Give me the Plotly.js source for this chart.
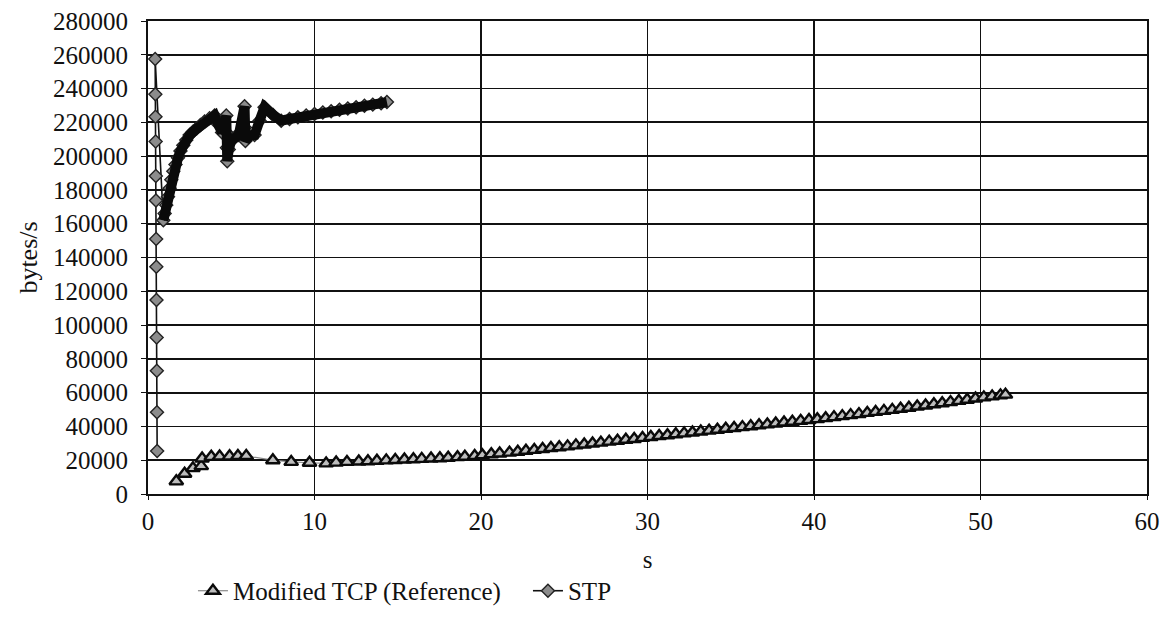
<!DOCTYPE html>
<html>
<head>
<meta charset="utf-8">
<script src="https://cdn.plot.ly/plotly-3.0.1.min.js"></script>
<style>
html,body{margin:0;padding:0;background:#fff;overflow:hidden;}
#chart{width:1174px;height:626px;}
</style>
</head>
<body>
<div id="chart"></div>
<script>
// Modified TCP (Reference)
var tcpX = [1.7, 2.2, 2.7, 3.2, 3.25, 3.8, 4.3, 4.9, 5.4, 5.9, 7.5, 8.6, 9.7, 10.7, 11.3, 11.95,
  12.66, 13.21, 13.75, 14.31, 14.85, 15.4, 15.94, 16.44, 17.0, 17.53, 18.03, 18.59, 19.03, 19.62,
  20.08, 20.62, 21.12, 21.71, 22.21, 22.7, 23.2, 23.7, 24.2, 24.7, 25.2, 25.7, 26.2, 26.7, 27.2,
  27.7, 28.2, 28.7, 29.2, 29.7, 30.2, 30.7, 31.2, 31.7, 32.2, 32.7, 33.2, 33.7, 34.2, 34.7, 35.2,
  35.7, 36.2, 36.7, 37.2, 37.7, 38.2, 38.7, 39.2, 39.7, 40.2, 40.7, 41.2, 41.7, 42.2, 42.7, 43.2,
  43.7, 44.2, 44.7, 45.2, 45.7, 46.2, 46.7, 47.2, 47.7, 48.2, 48.7, 49.2, 49.7, 50.2, 50.7, 51.2, 51.5];
var tcpY = [7500, 12000, 15300, 16500, 21000, 22000, 22200, 22300, 22500, 22500, 20000, 19000, 18500, 18100, 18600, 19000,
  19200, 19400, 19700, 19900, 20100, 20400, 20600, 20800, 21000, 21200, 21500, 21800, 22100, 22500,
  23000, 23500, 24000, 24500, 25000, 25600, 26100, 26600, 27200, 27700, 28200, 28800, 29300, 29900, 30400,
  31000, 31500, 32100, 32600, 33200, 33700, 34300, 34800, 35400, 35900, 36400, 37000, 37500, 38000, 38600, 39100,
  39600, 40100, 40700, 41200, 41700, 42300, 42800, 43300, 43800, 44300, 44900, 45500, 46100, 46700, 47300, 48000,
  48600, 49200, 49800, 50500, 51100, 51800, 52400, 53100, 53700, 54400, 55100, 55800, 56500, 57200, 57800, 58400, 58800];

// STP
var stpX = [0.55, 0.54, 0.53, 0.52, 0.51, 0.50, 0.49, 0.48, 0.47, 0.46, 0.45, 0.44, 0.43,
  0.92, 1.0, 1.1, 1.2, 1.3, 1.4, 1.52, 1.65, 1.8, 1.95, 2.12, 2.3, 2.5, 2.7, 2.92, 3.15, 3.4, 3.7, 4.0,
  4.2, 4.45, 4.7, 4.72, 4.74, 4.76, 4.85, 5.0, 5.2, 5.45, 5.8, 5.82, 5.85, 6.1, 6.4, 6.7, 7.0, 7.5, 8.0,
  8.5, 9.0, 9.5, 10.0, 10.5, 11.0, 11.5, 12.0, 12.5, 13.0, 13.5, 14.0, 14.35];
var stpY = [25500, 48400, 72900, 92700, 114900, 134500, 151000, 173800, 188300, 208700, 223300, 236700, 257500,
  162000, 166000, 171000, 176000, 181000, 186000, 191000, 195000, 199000, 203000, 206500, 209500, 212500, 214500, 216300, 218500, 220500, 222500, 224000,
  219000, 214000, 224000, 214000, 205000, 197000, 204000, 209000, 211000, 212500, 229500, 217000, 209000, 212000, 212500, 221000, 229000, 224500, 221000,
  222000, 223000, 224000, 225000, 225800, 226600, 227400, 228200, 229000, 229800, 230500, 231300, 232000];
var stpBandStart = 13; // dense part of the STP curve (drawn as a heavy band)

var yTicks = [0, 20000, 40000, 60000, 80000, 100000, 120000, 140000, 160000, 180000, 200000, 220000, 240000, 260000, 280000];
var xTicks = [0, 10, 20, 30, 40, 50, 60];

var serif = 'Liberation Serif';

var traces = [
  {
    x: tcpX, y: tcpY, name: 'Modified TCP (Reference)', type: 'scatter', mode: 'lines+markers',
    line: {color: '#8a8a8a', width: 1.2},
    marker: {symbol: 'triangle-up', size: 12, color: '#bdbdbd', line: {color: '#0a0a0a', width: 2.4}}
  },
  {
    x: stpX, y: stpY, name: 'STP', type: 'scatter', mode: 'lines+markers',
    line: {color: '#111', width: 1.6},
    marker: {symbol: 'diamond', size: 10, color: '#8c8c8c', line: {color: '#222', width: 1.4}}
  },
  {
    x: stpX.slice(stpBandStart), y: stpY.slice(stpBandStart), showlegend: false, hoverinfo: 'skip',
    type: 'scatter', mode: 'lines', line: {color: '#0a0a0a', width: 10}
  }
];

var layout = {
  width: 1174, height: 626,
  margin: {l: 148, r: 27, t: 21, b: 125},
  paper_bgcolor: '#fff', plot_bgcolor: '#fff',
  font: {family: serif, size: 25, color: '#111'},
  showlegend: true,
  legend: {orientation: 'h', x: 0.045, y: -0.205, xanchor: 'left', yanchor: 'middle',
           entrywidth: 290, entrywidthmode: 'pixels',
           font: {family: serif, size: 25, color: '#111'}, bgcolor: 'rgba(0,0,0,0)', traceorder: 'normal'},
  xaxis: {
    range: [0, 60], tickvals: xTicks, ticktext: xTicks.map(String),
    showgrid: true, gridcolor: '#111', gridwidth: 1.8,
    showline: true, linecolor: '#111', linewidth: 2, mirror: true,
    ticks: 'outside', ticklen: 4, tickcolor: '#111', zeroline: false,
    tickfont: {family: serif, size: 25, color: '#111'},
    title: {text: 's', font: {family: serif, size: 25, color: '#111'}, standoff: 16}
  },
  yaxis: {
    range: [0, 280000], tickvals: yTicks, ticktext: yTicks.map(String),
    showgrid: true, gridcolor: '#111', gridwidth: 1.8,
    showline: true, linecolor: '#111', linewidth: 2, mirror: true,
    ticks: 'outside', ticklen: 5, tickcolor: '#111', zeroline: false,
    ticklabelstandoff: 8,
    tickfont: {family: serif, size: 25, color: '#111'},
    title: {text: 'bytes/s', font: {family: serif, size: 26, color: '#111'}, standoff: 8}
  }
};

Plotly.newPlot('chart', traces, layout, {staticPlot: true}).then(function (gd) {
  var texts = gd.querySelectorAll('svg text');
  for (var i = 0; i < texts.length; i++) {
    texts[i].style.setProperty('font-family', '"Liberation Serif", "DejaVu Serif", serif', 'important');
  }
});
</script>
</body>
</html>
